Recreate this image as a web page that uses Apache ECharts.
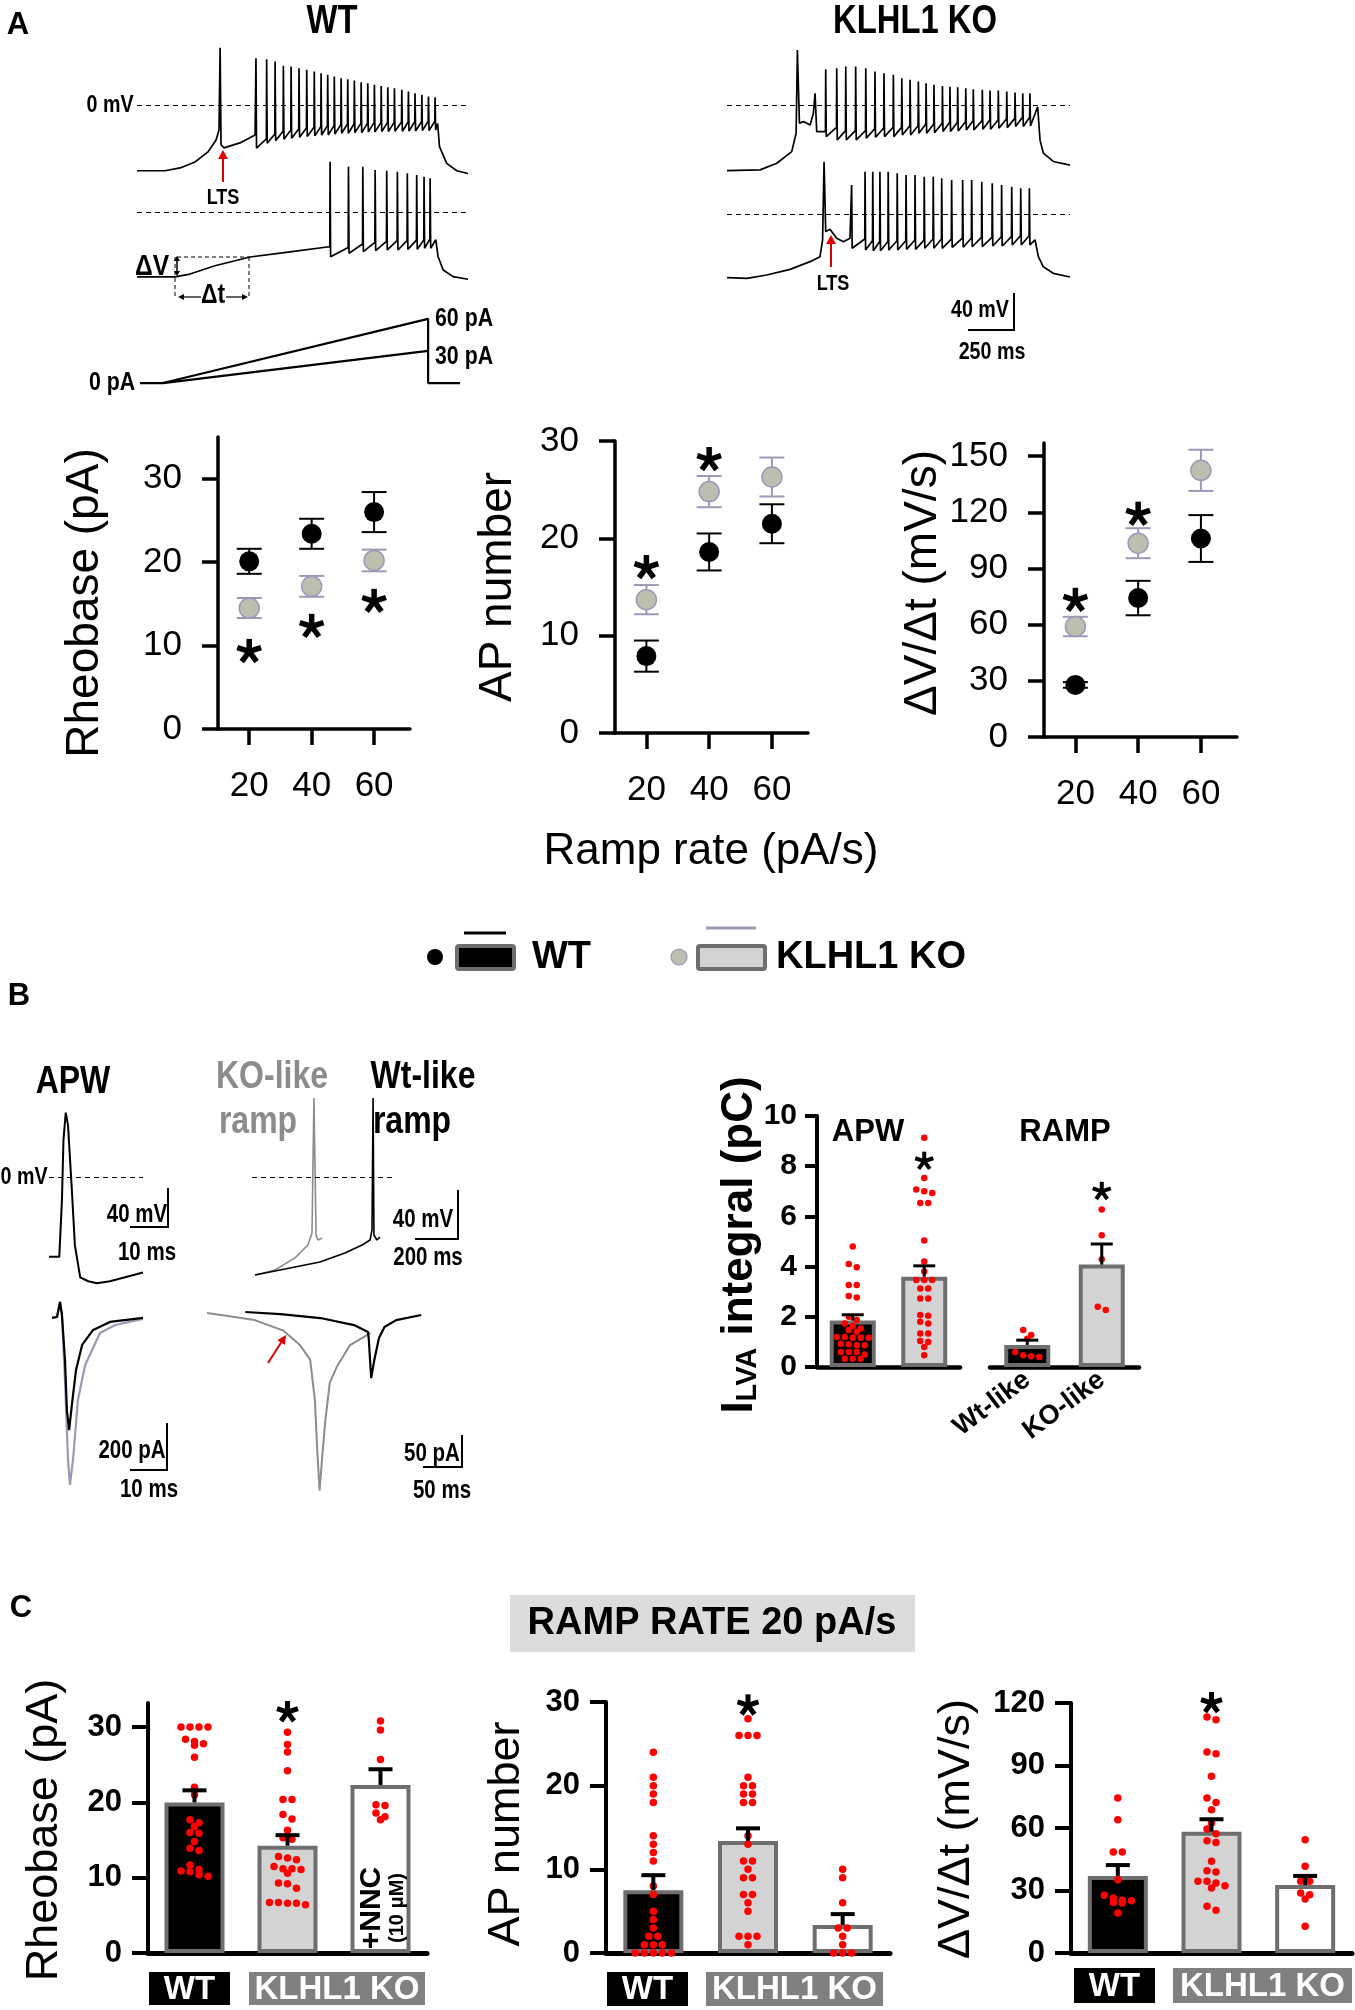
<!DOCTYPE html>
<html>
<head>
<meta charset="utf-8">
<script src="https://cdn.jsdelivr.net/npm/echarts@6/dist/echarts.min.js"></script>
<style>
  html, body { margin: 0; padding: 0; background: #fff; }
  #main { width: 1355px; height: 2010px; }
</style>
</head>
<body>
<div id="main"></div>
<script>
// ---------- data ----------
// A: voltage traces (ms, mV) and current ramps (ms, pA)
var wt1Pre = [[0,-71],[152,-71],[234,-68],[316,-61.5],[386,-50.7],[430,-37.8],[446,-27],[452,61.5],[457,-43],[473,-46.4],[560,-41],[642,-32.4]];
var wt1SpikeT = [647,705,751,796,838,881,923,964,1001,1037,1073,1110,1146,1182,1219,1255,1291,1328,1364,1400,1440,1476,1512,1549,1585,1621];
var wt1Peak = [50.4,49.3,46.7,42.1,41.4,39.6,37.8,35.9,34.2,32.4,30.6,28.8,27.7,26.2,24.5,23.4,21.6,20.5,19.1,18.0,16.2,14.4,12.6,10.8,9.0,8.3];
var wt1Trough = [-46.7,-41.3,-38.5,-37,-35.9,-34.9,-34.2,-33.4,-32.4,-32.4,-31.3,-30.6,-30.6,-29.9,-29.9,-29.1,-29.1,-28.8,-28.8,-28.4,-28.4,-28.1,-28.1,-27.7,-27.7,-27];
var wt1Tail = [[1635,-20],[1645,-45],[1684,-63],[1739,-71],[1800,-74]];

var wt2Pre = [[0,-70],[207,-70],[288,-67],[424,-58],[615,-48.6],[832,-43],[1034,-37.8]];
var wt2SpikeT = [1050,1150,1228,1295,1358,1416,1470,1521,1561,1594];
var wt2Peak = [54.3,48.9,48.9,45.3,44.6,43.5,41.8,39.9,38.1,36.3];
var wt2Trough = [-48.2,-44.6,-42.8,-41.8,-41,-41,-40.3,-40.3,-39.2,-39.2];
var wt2Tail = [[1625,-30],[1637,-48],[1665,-62.6],[1719,-69.8],[1800,-72.6]];

var ko1Pre = [[0,-70.9],[180,-70.1],[271,-62.9],[352,-50.4],[376,-30.6],[383,59.3],[394,-19.8],[416,-18],[452,-21.6],[470,-9],[479,12.6],[488,-28.8]];
var ko1SpikeT = [537,597,646,700,755,805,854,905,951,996,1041,1083,1126,1172,1213,1255,1299,1340,1389,1431,1476,1522,1567,1609,1648];
var ko1Peak = [38.5,39.6,41.3,41.3,39.6,35.9,34.2,32.4,28.8,27,25.1,23.4,21.6,20.5,19.7,19.1,18,16.9,16.2,15.4,15.4,14.4,13.3,12.6,12.6];
var ko1Trough = [-34.2,-37.8,-37.8,-37.8,-35.9,-34.9,-34.2,-34.2,-32.4,-32.4,-30.6,-30.6,-29.9,-28.8,-28.8,-28.1,-27,-27,-26.2,-26.2,-25.1,-24.5,-23.4,-23.4,-22.7];
var ko1Tail = [[1690,-2],[1703,-38],[1721,-52],[1775,-61],[1866,-65]];

var ko2Pre = [[0,-68.7],[109,-69.4],[216,-65.8],[343,-59.7],[452,-51.4],[506,-46],[520,-28],[528,56.4],[537,-19],[560,-16.5],[597,-26.2],[633,-29.9],[669,-26.2]];
var ko2SpikeT = [678,751,793,832,877,926,974,1023,1073,1122,1168,1222,1282,1331,1386,1443,1494,1549,1598,1645];
var ko2Peak = [31.3,45.6,45.6,45.6,45.6,43.9,42.1,42.1,40.2,40.2,38.5,36.7,36.7,36.7,34.9,33.2,31.3,29.5,27.7,27.7];
var ko2Trough = [-37,-38.8,-39.6,-39.6,-38.8,-38.8,-38.1,-38.1,-37,-37,-37,-35.9,-35.9,-35.3,-35.3,-34.5,-34.5,-33.4,-33.4,-33.4];
var ko2Tail = [[1676,-28],[1694,-46],[1721,-57],[1775,-64],[1866,-68]];

var ramp60 = [[16,0],[141,0],[1583,60],[1583,0],[1757,0]];
var ramp30 = [[141,0],[1583,30]];

// A: summary vs ramp rate
var rampRates = [20, 40, 60];
var rheoWT = [20.1, 23.4, 26.0], rheoWTsem = [1.5, 1.8, 2.4];
var rheoKO = [14.5, 17.1, 20.2], rheoKOsem = [1.2, 1.25, 1.3];
var apWT = [7.9, 18.6, 21.5], apWTsem = [1.6, 1.9, 2.0];
var apKO = [13.7, 24.8, 26.3], apKOsem = [1.5, 1.6, 2.0];
var dvWT = [27.8, 74.2, 106], dvWTsem = [1.5, 9.2, 12.5];
var dvKO = [59, 103.5, 142.4], dvKOsem = [5.2, 8.0, 11];
var rheoStars = [9.3, 12.3, 15.3];
var apStars = [17.0, 28.1, null];
var dvStars = [73, 119, null];

// B: traces
var apwV = [[0,-82],[2.7,-82],[3.4,-24],[3.8,38],[4.4,66],[5.0,53],[6.0,-13],[6.8,-70],[8.2,-103],[10.3,-107],[12.6,-109],[16,-107],[20,-103],[24.7,-98]];
var apwIwt = [[0.8,0],[2.1,4],[2.9,68],[3.4,13],[4.2,-179],[4.7,-392],[5.3,-477],[6.0,-371],[7.1,-222],[8.7,-115],[11.6,-51],[16,-17],[24.7,0]];
var apwIko = [[0.8,0],[2.1,4],[2.9,68],[3.4,13],[4.2,-264],[5.0,-605],[5.5,-711],[6.3,-605],[7.6,-349],[9.5,-200],[13.4,-64],[17.4,-30],[24.7,-4]];
var rampVko = [[14,-80],[107,-75.9],[200,-66],[260,-55.5],[279,-45.7],[288,64.5],[298,-48],[307,-51.4],[326,-49.8]];
var rampVwt = [[14,-80],[177,-74.3],[316,-69.4],[432,-62],[512,-55.5],[549,-51.4],[558,-43.2],[563,64.5],[567,-47.3],[581,-51.4],[595,-49]];
var rampIko = [[0,0],[29,-5],[61,-11],[97,-27],[119,-50],[132,-73],[138,-136],[141,-214],[144,-277],[147,-230],[151,-172],[157,-109],[166,-84],[183,-50],[205,-34],[209,-31]];
var rampIwt = [[49,1.6],[94,-1.6],[145,-7.8],[188,-18.8],[206,-29.7],[207,-42],[210,-101.6],[214,-73.4],[220,-39],[227,-21.9],[242,-11],[274,-3]];

// B: ILVA integral
var apwCats = ['WT', 'KLHL1 KO'];
var apwMean = [1.85, 3.6], apwSem = [0.23, 0.43];
var rampCats = ['Wt-like', 'KO-like'];
var rampMean = [0.88, 4.08], rampSem = [0.19, 0.82];
var apwWtDots = [4.8,4.1,3.97,3.27,3.27,2.83,2.77,2.0,1.87,1.73,1.63,1.53,1.47,1.4,1.2,1.2,1.17,1.17,1.17,0.93,0.91,0.87,0.87,0.6,0.6,0.6,0.5,0.33,0.33,0.33];
var apwKoDots = [9.13,7.53,7.07,7.0,6.93,6.53,6.53,5.04,4.2,3.8,3.47,3.47,3.47,3.13,3.13,2.73,2.73,2.07,2.04,1.8,1.73,1.33,1.33,1.04,1.0,0.8,0.47];
var rampWtDots = [1.47,1.27,1.13,0.6,0.47,0.43,0.4];
var rampKoDots = [6.27,5.25,4.29,2.4,2.27];
var apwStar = 8.2, rampStar = 7.0;

// C: ramp rate 20 pA/s
var cCats = ['WT', 'KLHL1 KO', 'KLHL1 KO + NNC'];
var rheoMean = [20.0, 14.25, 22.3], rheoSem = [1.6, 1.4, 2.1];
var apMean = [7.5, 13.4, 3.35], apSem = [1.8, 1.5, 1.3];
var dvMean = [37, 58.2, 32.6], dvSem = [5.2, 6.0, 4.4];
var rheoDots = [
  [30,30,30,30,28.4,28.1,27.8,27.6,26,22,21,17.7,17.3,16.8,16.0,15.9,14.8,13.9,13.6,11.7,11.1,10.9,10.8,10.4,10.2],
  [29.3,27.7,26.7,24.2,20.4,20.4,18.4,17.8,16.3,15.3,15.1,12.8,12.6,12.4,11.5,11.2,11.2,11.1,10.6,9.3,9.2,8.6,6.7,6.7,6.6,6.6,6.4],
  [30.8,29.6,25.7,19.7,19.6,18.6,18.1,17.7]
];
var apDots = [
  [24,21,20,19,18,14,13,12,11,8,7,5,4,3,2,2,1,1,1,0,0,0,0,0],
  [28,26,26,26,21,20,20,19,19,18,18,14,13,11,11,10,9,9,7,7,6,5,2,2,2,1],
  [10,9,6,3,3,2,1,0,0,0]
];
var dvDots = [
  [74.4,64,48.5,48.5,35.2,27.7,26.4,25.3,25.1,24.3,24,19.2],
  [113.3,112,96.5,95.7,84.8,74.4,72.3,68.8,62.4,59.5,57.3,53.9,53.1,44,39.5,38.9,34.4,34.4,33.6,32.3,31.2,22.4,20.5],
  [54.4,41.6,34.4,34.4,28.8,28,25.9,12.8]
];
var cStars = { rheo: 32, ap: 29.6, dv: 120 };

// ---------- styling ----------
var SANS = '"Liberation Sans", Arial, sans-serif';
var NARROW = 'narrow';   // drawn as Liberation Sans Bold squeezed horizontally
var RED = '#ff0000';
var KO_FILL = '#bdbdb0', KO_LINE = '#9a9ab6', EDGE = '#6e6e6e', KO_BAR = '#d3d3d3';

var grids = [], xAxes = [], yAxes = [], series = [], graphics = [];

function addGrid(l, t, w, h) {
  grids.push({ left: l, top: t, width: w, height: h, containLabel: false });
  return grids.length - 1;
}
function hiddenXY(gi, x0, x1, y0, y1) {
  xAxes.push({ type: 'value', gridIndex: gi, min: x0, max: x1, show: false });
  yAxes.push({ type: 'value', gridIndex: gi, min: y0, max: y1, show: false });
  return [xAxes.length - 1, yAxes.length - 1];
}
function spikeTrain(pre, times, peaks, troughs, tail) {
  var pts = pre.slice();
  var level = pre[pre.length - 1][1];
  for (var i = 0; i < times.length; i++) {
    pts.push([times[i] - 1.5, level]);
    pts.push([times[i], peaks[i]]);
    pts.push([times[i] + 3, troughs[i]]);
    level = troughs[i] + 10;
  }
  return pts.concat(tail);
}
var zeroLine = {
  silent: true, symbol: ['none', 'none'], label: { show: false },
  lineStyle: { color: '#000', width: 1, type: [5, 4] },
  data: [{ yAxis: 0 }]
};
function trace(ax, data, color, width, mark) {
  var s = {
    type: 'line', xAxisIndex: ax[0], yAxisIndex: ax[1], data: data,
    symbol: 'none', silent: true, animation: false,
    lineStyle: { color: color, width: width }
  };
  if (mark) s.markLine = zeroLine;
  series.push(s);
}
function errBars(xi, yi, data, color, lw, cap, upOnly) {
  series.push({
    type: 'custom', xAxisIndex: xi, yAxisIndex: yi, z: 4, silent: true, animation: false,
    renderItem: function (p, api) {
      var x = api.value(0), m = api.value(1), s = api.value(2);
      var top = api.coord([x, m + s]), mid = api.coord([x, m]), bot = api.coord([x, m - s]);
      var from = upOnly ? mid : bot;
      var st = { stroke: color, lineWidth: lw };
      var ch = [
        { type: 'line', shape: { x1: top[0], y1: top[1], x2: from[0], y2: from[1] }, style: st },
        { type: 'line', shape: { x1: top[0] - cap / 2, y1: top[1], x2: top[0] + cap / 2, y2: top[1] }, style: st }
      ];
      if (!upOnly) ch.push({ type: 'line', shape: { x1: bot[0] - cap / 2, y1: bot[1], x2: bot[0] + cap / 2, y2: bot[1] }, style: st });
      return { type: 'group', children: ch };
    },
    data: data
  });
}
function stars(xi, yi, data, arm, lw) {
  series.push({
    type: 'custom', xAxisIndex: xi, yAxisIndex: yi, z: 6, silent: true, animation: false,
    renderItem: function (p, api) {
      var c = api.coord([api.value(0), api.value(1)]);
      var ch = [];
      for (var k = 0; k < 5; k++) {
        var a = -Math.PI / 2 + k * 2 * Math.PI / 5;
        ch.push({ type: 'line', shape: { x1: c[0], y1: c[1], x2: c[0] + arm * Math.cos(a), y2: c[1] + arm * Math.sin(a) },
          style: { stroke: '#000', lineWidth: lw } });
      }
      return { type: 'group', children: ch };
    },
    data: data
  });
}
function swarm(vals, cat, yPerUnit, band, dot) {
  var s = vals.slice().sort(function (a, b) { return b - a; });
  var rows = [], out = [];
  s.forEach(function (v) {
    var r = rows[rows.length - 1];
    if (r && (r[0] - v) * yPerUnit < dot * 0.8) r.push(v); else rows.push([v]);
  });
  rows.forEach(function (r) {
    r.forEach(function (v, k) {
      out.push([cat + (k - (r.length - 1) / 2) * (dot + 1.5) / band, v]);
    });
  });
  return out;
}

// graphic helpers
function T(x, y, s, size, o) {
  o = o || {};
  var narrow = !o.family || o.family === NARROW;
  var f = (o.weight || 'bold') + ' ' + size + 'px ' + (narrow ? SANS : o.family);
  return { type: 'text', x: x, y: y, rotation: o.rot || 0, scaleX: narrow ? 0.82 : 1, z: 100, silent: true,
    style: { text: s, fill: o.color || '#000', font: f, textAlign: o.align || 'center', textVerticalAlign: 'middle',
      align: o.align || 'center', verticalAlign: 'middle', rich: o.rich } };
}
function L(x1, y1, x2, y2, w, col, dash) {
  return { type: 'line', z: 100, silent: true, shape: { x1: x1, y1: y1, x2: x2, y2: y2 },
    style: { stroke: col || '#000', lineWidth: w, lineDash: dash || null } };
}
function arrowHead(x1, y1, x2, y2, col, hl, hw) {
  var a = Math.atan2(y2 - y1, x2 - x1);
  var bx = x2 - hl * Math.cos(a), by = y2 - hl * Math.sin(a);
  var px = -Math.sin(a) * hw, py = Math.cos(a) * hw;
  return { type: 'polygon', z: 100, silent: true, shape: { points: [[x2, y2], [bx + px, by + py], [bx - px, by - py]] }, style: { fill: col } };
}
function arrow(x1, y1, x2, y2, col, lw, hl, hw) {
  var a = Math.atan2(y2 - y1, x2 - x1);
  graphics.push(L(x1, y1, x2 - hl * Math.cos(a), y2 - hl * Math.sin(a), lw, col));
  graphics.push(arrowHead(x1, y1, x2, y2, col, hl, hw));
}
function scaleBar(xv, y0, y1, xh0, w) {
  graphics.push(L(xv, y0, xv, y1, w || 2));
  graphics.push(L(xh0, y1, xv + 1, y1, w || 2));
}

// ---------- A: traces ----------
var gWt1 = addGrid(137, 40, 331, 140), aWt1 = hiddenXY(gWt1, 0, 1800, -81, 70);
var gWt2 = addGrid(137, 150, 331, 140), aWt2 = hiddenXY(gWt2, 0, 1800, -84.2, 66.9);
var gRmp = addGrid(137, 300, 331, 90), aRmp = hiddenXY(gRmp, 0, 1800, -6.5, 77.6);
var gKo1 = addGrid(727, 40, 343, 140), aKo1 = hiddenXY(gKo1, 0, 1866, -81, 70);
var gKo2 = addGrid(727, 150, 343, 140), aKo2 = hiddenXY(gKo2, 0, 1866, -82, 69.1);

trace(aWt1, spikeTrain(wt1Pre, wt1SpikeT, wt1Peak, wt1Trough, wt1Tail), '#000', 1.7, true);
trace(aWt2, spikeTrain(wt2Pre, wt2SpikeT, wt2Peak, wt2Trough, wt2Tail), '#000', 1.7, true);
trace(aKo1, spikeTrain(ko1Pre, ko1SpikeT, ko1Peak, ko1Trough, ko1Tail), '#000', 1.7, true);
trace(aKo2, spikeTrain(ko2Pre, ko2SpikeT, ko2Peak, ko2Trough, ko2Tail), '#000', 1.7, true);
trace(aRmp, ramp60, '#000', 2.2, false);
trace(aRmp, ramp30, '#000', 2.2, false);

// ---------- A: summary scatter ----------
function scatterPanel(l, t, w, h, ymax, ticks, wt, wtSem, ko, koSem, starVals) {
  var gi = addGrid(l, t, w, h);
  xAxes.push({ type: 'value', gridIndex: gi, min: 10, max: 71.5,
    axisLine: { show: true, onZero: false, lineStyle: { color: '#000', width: 3.5 } },
    axisTick: { show: true, length: 16, customValues: rampRates, lineStyle: { color: '#000', width: 3.5 } },
    axisLabel: { customValues: rampRates, margin: 40, fontSize: 35, color: '#000', fontFamily: SANS },
    splitLine: { show: false } });
  yAxes.push({ type: 'value', gridIndex: gi, min: 0, max: ymax,
    axisLine: { show: true, onZero: false, lineStyle: { color: '#000', width: 3.5 } },
    axisTick: { show: true, length: 16, customValues: ticks, lineStyle: { color: '#000', width: 3.5 } },
    axisLabel: { customValues: ticks, margin: 36, fontSize: 35, color: '#000', fontFamily: SANS },
    splitLine: { show: false } });
  var xi = xAxes.length - 1, yi = yAxes.length - 1;
  errBars(xi, yi, rampRates.map(function (r, i) { return [r, wt[i], wtSem[i]]; }), '#000', 2, 25, false);
  errBars(xi, yi, rampRates.map(function (r, i) { return [r, ko[i], koSem[i]]; }), KO_LINE, 2, 25, false);
  series.push({ type: 'scatter', xAxisIndex: xi, yAxisIndex: yi, z: 5, symbolSize: 20, silent: true, animation: false,
    itemStyle: { color: '#000', opacity: 1 }, data: rampRates.map(function (r, i) { return [r, wt[i]]; }) });
  series.push({ type: 'scatter', xAxisIndex: xi, yAxisIndex: yi, z: 5, symbolSize: 20, silent: true, animation: false,
    itemStyle: { color: KO_FILL, borderColor: KO_LINE, borderWidth: 1.5, opacity: 1 },
    data: rampRates.map(function (r, i) { return [r, ko[i]]; }) });
  var sd = [];
  rampRates.forEach(function (r, i) { if (starVals[i] != null) sd.push([r, starVals[i]]); });
  stars(xi, yi, sd, 12.5, 5.5);
}
scatterPanel(218, 437, 192, 292, 35, [0, 10, 20, 30], rheoWT, rheoWTsem, rheoKO, rheoKOsem, rheoStars);
scatterPanel(615, 441, 193, 292, 30, [0, 10, 20, 30], apWT, apWTsem, apKO, apKOsem, apStars);
scatterPanel(1044, 443, 193, 294, 157, [0, 30, 60, 90, 120, 150], dvWT, dvWTsem, dvKO, dvKOsem, dvStars);

// ---------- B: traces ----------
var gApV = addGrid(49, 1100, 94, 190), aApV = hiddenXY(gApV, 0, 24.7, -116, 79);
var gApI = addGrid(49, 1290, 94, 210), aApI = hiddenXY(gApI, 0, 24.7, -775, 119);
var gRV = addGrid(252, 1090, 140, 200), aRV = hiddenXY(gRV, 0, 651, -92.2, 71);
var gRI = addGrid(207, 1290, 215, 210), aRI = hiddenXY(gRI, 0, 275, -292, 36);
trace(aApV, apwV, '#000', 2, true);
trace(aApI, apwIko, '#9a9ab4', 2.2, false);
trace(aApI, apwIwt, '#000', 2.2, false);
trace(aRV, rampVko, '#8c8c8c', 1.6, true);
trace(aRV, rampVwt, '#000', 1.6, false);
trace(aRI, rampIko, '#8c8c8c', 2, false);
trace(aRI, rampIwt, '#000', 2.2, false);

// ---------- bar panels (B right, C) ----------
function barPanel(o) {
  var gi = addGrid(o.left, o.top, o.width, o.height);
  var n = o.cats.length;
  xAxes.push({ type: 'category', gridIndex: gi, data: o.cats,
    axisLine: { show: true, onZero: false, lineStyle: { color: '#000', width: o.xLine } },
    axisTick: { show: false },
    axisLabel: o.xLabel || { show: false } });
  var xc = xAxes.length - 1;
  xAxes.push({ type: 'value', gridIndex: gi, min: -0.5, max: n - 0.5, show: false, position: 'top' });
  var xv = xAxes.length - 1;
  yAxes.push({ type: 'value', gridIndex: gi, min: 0, max: o.ymax, show: o.showY !== false,
    axisLine: { show: true, onZero: false, lineStyle: { color: '#000', width: o.yLine } },
    axisTick: { show: true, length: o.tickLen, customValues: o.ticks, lineStyle: { color: '#000', width: o.yLine } },
    axisLabel: { customValues: o.ticks, margin: o.labelMargin, fontSize: o.labelSize, fontWeight: 'bold', color: '#000', fontFamily: SANS },
    splitLine: { show: false } });
  var yi = yAxes.length - 1;
  series.push({ type: 'bar', xAxisIndex: xc, yAxisIndex: yi, barWidth: o.barW, silent: true, animation: false, z: 2,
    itemStyle: { borderColor: EDGE, borderWidth: 4 },
    data: o.means.map(function (m, i) { return { value: m, itemStyle: { color: o.fills[i] } }; }) });
  var ypu = o.height / o.ymax, band = o.width / n, dots = [];
  o.dots.forEach(function (vals, i) { dots = dots.concat(swarm(vals, i, ypu, band, o.dotSize)); });
  series.push({ type: 'scatter', xAxisIndex: xv, yAxisIndex: yi, z: 3, symbolSize: o.dotSize, silent: true, animation: false,
    itemStyle: { color: RED, opacity: 1 }, data: dots });
  errBars(xv, yi, o.means.map(function (m, i) { return [i, m, o.sems[i]]; }), '#000', o.errW, o.cap, true);
  stars(xv, yi, o.stars, o.arm, o.armW);
}

barPanel({ left: 817, top: 1116, width: 143, height: 251, cats: apwCats, ymax: 10, ticks: [0, 2, 4, 6, 8, 10],
  means: apwMean, sems: apwSem, fills: ['#000', KO_BAR], dots: [apwWtDots, apwKoDots], dotSize: 6.5,
  barW: 46, xLine: 4.5, yLine: 4, tickLen: 12, labelMargin: 20, labelSize: 30, errW: 3, cap: 22,
  stars: [[1, apwStar]], arm: 9.5, armW: 4 });
barPanel({ left: 990, top: 1116, width: 149, height: 251, cats: rampCats, ymax: 10, ticks: [0, 2, 4, 6, 8, 10], showY: false,
  means: rampMean, sems: rampSem, fills: ['#000', KO_BAR], dots: [rampWtDots, rampKoDots], dotSize: 6.5,
  barW: 46, xLine: 4.5, yLine: 4, tickLen: 12, labelMargin: 20, labelSize: 30, errW: 3, cap: 22,
  xLabel: { show: true, rotate: 37, margin: 10, fontSize: 27, fontWeight: 'bold', color: '#000', fontFamily: SANS, interval: 0 },
  stars: [[1, rampStar]], arm: 9.5, armW: 4 });

var cFills = ['#000', KO_BAR, '#fff'];
var cCommon = { cats: cCats, fills: cFills, dotSize: 7.5, barW: 60, xLine: 5, yLine: 4, tickLen: 16,
  labelMargin: 26, labelSize: 31, errW: 4, cap: 24, arm: 11, armW: 5 };
function withC(extra) { var o = {}; for (var k in cCommon) o[k] = cCommon[k]; for (var k2 in extra) o[k2] = extra[k2]; return o; }
barPanel(withC({ left: 148, top: 1703, width: 279, height: 250, ymax: 33.2, ticks: [0, 10, 20, 30],
  means: rheoMean, sems: rheoSem, dots: rheoDots, stars: [[1, cStars.rheo]] }));
barPanel(withC({ left: 606, top: 1702, width: 284, height: 251, ymax: 30, ticks: [0, 10, 20, 30],
  means: apMean, sems: apSem, dots: apDots, stars: [[1, cStars.ap]] }));
barPanel(withC({ left: 1071, top: 1703, width: 281, height: 250, ymax: 120, ticks: [0, 30, 60, 90, 120],
  means: dvMean, sems: dvSem, dots: dvDots, stars: [[1, cStars.dv]] }));

// ---------- annotations ----------
graphics.push(T(18, 25, 'A', 31, { family: SANS }));
graphics.push(T(19, 996, 'B', 31, { family: SANS }));
graphics.push(T(21, 1608, 'C', 31, { family: SANS }));

// A traces text
graphics.push(T(332, 22, 'WT', 40));
graphics.push(T(915, 22, 'KLHL1 KO', 40));
graphics.push(T(110, 105, '0 mV', 24));
graphics.push(T(223, 198, 'LTS', 22));
arrow(223, 182, 223, 150, '#e00000', 2, 9, 5);
graphics.push(T(833, 284, 'LTS', 22));
arrow(831, 267, 831, 235, '#e00000', 2, 9, 5);
graphics.push(T(152, 267, '\u0394V', 30));
graphics.push(L(177, 257, 250, 257, 1, '#000', [4, 3]));
graphics.push(L(175, 257, 175, 298, 1, '#000', [4, 3]));
graphics.push(L(249, 257, 249, 298, 1, '#000', [4, 3]));
arrow(177, 266, 177, 256, '#000', 1.5, 5, 3);
arrow(177, 266, 177, 276, '#000', 1.5, 5, 3);
graphics.push(T(213, 295, '\u0394t', 28));
arrow(201, 297, 178, 297, '#000', 1.2, 6, 3);
arrow(226, 297, 248, 297, '#000', 1.2, 6, 3);
graphics.push(T(112, 383, '0 pA', 26));
graphics.push(T(435, 319, '60 pA', 26, { align: 'left' }));
graphics.push(T(435, 357, '30 pA', 26, { align: 'left' }));
scaleBar(1014, 293, 330, 968, 2);
graphics.push(T(980, 310, '40 mV', 24));
graphics.push(T(992, 352, '250 ms', 24));

// A axis titles
graphics.push(T(85, 603, 'Rheobase (pA)', 46, { family: SANS, weight: 'normal', rot: Math.PI / 2 }));
graphics.push(T(498, 587, 'AP number', 46, { family: SANS, weight: 'normal', rot: Math.PI / 2 }));
graphics.push(T(923, 583, '\u0394V/\u0394t (mV/s)', 46, { family: SANS, weight: 'normal', rot: Math.PI / 2 }));
graphics.push(T(711, 852, 'Ramp rate (pA/s)', 44, { family: SANS, weight: 'normal' }));

// legend
graphics.push({ type: 'circle', z: 100, shape: { cx: 435, cy: 957, r: 8 }, style: { fill: '#000' } });
graphics.push({ type: 'rect', z: 100, shape: { x: 457, y: 946, width: 57, height: 23, r: 2 }, style: { fill: '#000', stroke: EDGE, lineWidth: 4 } });
graphics.push(L(464, 933, 506, 933, 3, '#000'));
graphics.push(T(532, 958, 'WT', 38, { family: SANS, align: 'left' }));
graphics.push({ type: 'circle', z: 100, shape: { cx: 679, cy: 957, r: 8 }, style: { fill: KO_FILL, stroke: KO_LINE, lineWidth: 1.2 } });
graphics.push({ type: 'rect', z: 100, shape: { x: 698, y: 946, width: 67, height: 23, r: 2 }, style: { fill: KO_BAR, stroke: EDGE, lineWidth: 4 } });
graphics.push(L(706, 928, 756, 928, 3, '#9a9ab8'));
graphics.push(T(776, 958, 'KLHL1 KO', 38, { family: SANS, align: 'left' }));

// B trace text
graphics.push(T(73, 1082, 'APW', 39));
graphics.push(T(24, 1177, '0 mV', 24));
scaleBar(168, 1188, 1227, 130, 2);
graphics.push(T(137, 1215, '40 mV', 25));
graphics.push(T(147, 1253, '10 ms', 25));
scaleBar(167, 1423, 1470, 130, 2);
graphics.push(T(132, 1451, '200 pA', 25));
graphics.push(T(149, 1490, '10 ms', 25));
graphics.push(T(272, 1077, 'KO-like', 39, { color: '#8c8c8c' }));
graphics.push(T(258, 1122, 'ramp', 39, { color: '#8c8c8c' }));
graphics.push(T(423, 1077, 'Wt-like', 39));
graphics.push(T(412, 1122, 'ramp', 39));
scaleBar(458, 1190, 1239, 415, 2);
graphics.push(T(423, 1220, '40 mV', 25));
graphics.push(T(428, 1258, '200 ms', 25));
scaleBar(462, 1435, 1467, 423, 2);
graphics.push(T(432, 1454, '50 pA', 25));
graphics.push(T(442, 1491, '50 ms', 25));
arrow(268, 1363, 286, 1335, '#e00000', 2, 9, 4.5);

// B bar chart text
graphics.push(T(868, 1132, 'APW', 31, { family: SANS }));
graphics.push(T(1065, 1132, 'RAMP', 31, { family: SANS }));
graphics.push(T(740, 1245, '{a|I}{b|LVA}{a| integral (pC)}', 44, { family: SANS, rot: Math.PI / 2,
  rich: { a: { fontSize: 44, fontWeight: 'bold', fontFamily: SANS, lineHeight: 44, verticalAlign: 'bottom' },
          b: { fontSize: 29, fontWeight: 'bold', fontFamily: SANS, lineHeight: 16, verticalAlign: 'bottom' } } }));

// C text
graphics.push({ type: 'rect', z: 90, shape: { x: 510, y: 1595, width: 405, height: 57 }, style: { fill: '#dcdcdc' } });
graphics.push(T(712, 1624, 'RAMP RATE 20 pA/s', 38, { family: SANS }));
function catBoxes(wx0, wx1, kx0, kx1, y0, y1) {
  graphics.push({ type: 'rect', z: 90, shape: { x: wx0, y: y0, width: wx1 - wx0, height: y1 - y0 }, style: { fill: '#000' } });
  graphics.push({ type: 'rect', z: 90, shape: { x: kx0, y: y0, width: kx1 - kx0, height: y1 - y0 }, style: { fill: '#808080' } });
  graphics.push(T((wx0 + wx1) / 2, (y0 + y1) / 2 + 1, 'WT', 33, { family: SANS, color: '#fff' }));
  graphics.push(T((kx0 + kx1) / 2, (y0 + y1) / 2 + 1, 'KLHL1 KO', 33, { family: SANS, color: '#fff' }));
}
catBoxes(149, 230, 249, 425, 1972, 2005);
catBoxes(607, 688, 706, 883, 1972, 2006);
catBoxes(1074, 1155, 1173, 1352, 1968, 2003);
graphics.push(T(372, 1908, '+NNC', 30, { family: SANS, rot: Math.PI / 2 }));
graphics.push(T(397, 1908, '(10 \u03bcM)', 20, { family: SANS, rot: Math.PI / 2 }));
graphics.push(T(45, 1830, 'Rheobase (pA)', 45, { family: SANS, weight: 'normal', rot: Math.PI / 2 }));
graphics.push(T(507, 1834, 'AP number', 45, { family: SANS, weight: 'normal', rot: Math.PI / 2 }));
graphics.push(T(957, 1829, '\u0394V/\u0394t (mV/s)', 45, { family: SANS, weight: 'normal', rot: Math.PI / 2 }));

var chart = echarts.init(document.getElementById('main'), null, { renderer: 'canvas' });
chart.setOption({
  animation: false,
  backgroundColor: '#fff',
  textStyle: { fontFamily: SANS },
  grid: grids,
  xAxis: xAxes,
  yAxis: yAxes,
  series: series,
  graphic: { elements: graphics }
});
</script>
</body>
</html>
